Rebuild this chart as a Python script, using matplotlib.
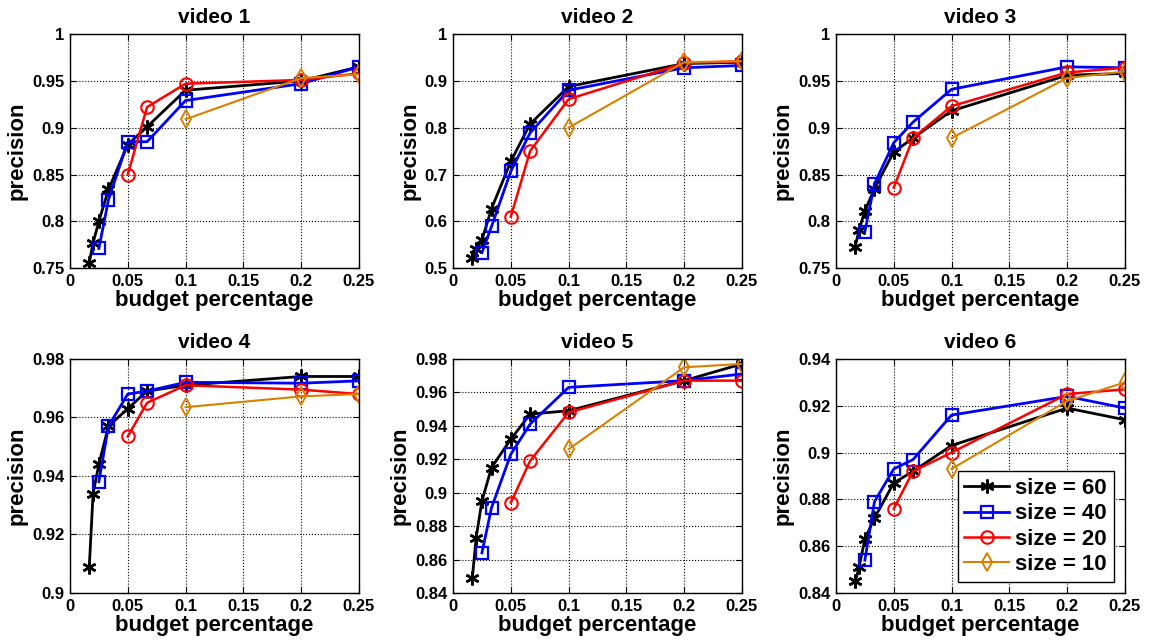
import numpy as np
import matplotlib
matplotlib.use("Agg")
import matplotlib.pyplot as plt
from matplotlib.ticker import FuncFormatter, MultipleLocator

plt.rcParams['font.family'] = ['Liberation Sans', 'DejaVu Sans']
plt.rcParams['font.weight'] = 'bold'

# budget percentages used by each window size
x_60 = [0.0167, 0.02, 0.025, 0.0333, 0.05, 0.0667, 0.1, 0.2, 0.25]
x_40 = [0.025, 0.0333, 0.05, 0.0667, 0.1, 0.2, 0.25]
x_20 = [0.05, 0.0667, 0.1, 0.2, 0.25]
x_10 = [0.1, 0.2, 0.25]

# precision per video, one list per size
v1_60 = [0.756, 0.777, 0.800, 0.834, 0.882, 0.901, 0.940, 0.950, 0.965]
v1_40 = [0.771, 0.823, 0.885, 0.885, 0.929, 0.947, 0.965]
v1_20 = [0.850, 0.922, 0.947, 0.951, 0.958]
v1_10 = [0.909, 0.953, 0.957]

v2_60 = [0.521, 0.540, 0.560, 0.627, 0.728, 0.808, 0.888, 0.937, 0.940]
v2_40 = [0.533, 0.589, 0.707, 0.789, 0.880, 0.928, 0.933]
v2_20 = [0.610, 0.750, 0.861, 0.938, 0.942]
v2_10 = [0.800, 0.940, 0.942]

v3_60 = [0.773, 0.791, 0.811, 0.835, 0.874, 0.889, 0.918, 0.956, 0.958]
v3_40 = [0.789, 0.840, 0.884, 0.906, 0.941, 0.965, 0.964]
v3_20 = [0.836, 0.889, 0.923, 0.959, 0.964]
v3_10 = [0.889, 0.953, 0.960]

v4_60 = [0.909, 0.934, 0.944, 0.957, 0.963, 0.969, 0.971, 0.974, 0.974]
v4_40 = [0.938, 0.957, 0.968, 0.969, 0.972, 0.9717, 0.9725]
v4_20 = [0.9535, 0.965, 0.971, 0.9695, 0.968]
v4_10 = [0.9635, 0.9672, 0.968]

v5_60 = [0.849, 0.873, 0.895, 0.915, 0.932, 0.947, 0.949, 0.967, 0.977]
v5_40 = [0.864, 0.891, 0.923, 0.941, 0.963, 0.967, 0.971]
v5_20 = [0.894, 0.919, 0.948, 0.967, 0.967]
v5_10 = [0.926, 0.975, 0.977]

v6_60 = [0.845, 0.851, 0.863, 0.872, 0.887, 0.892, 0.903, 0.919, 0.914]
v6_40 = [0.854, 0.879, 0.893, 0.897, 0.916, 0.924, 0.919]
v6_20 = [0.876, 0.892, 0.900, 0.925, 0.927]
v6_10 = [0.893, 0.922, 0.930]

titles = ['video 1', 'video 2', 'video 3', 'video 4', 'video 5', 'video 6']
ylims = [(0.75, 1), (0.5, 1), (0.75, 1), (0.9, 0.98), (0.84, 0.98), (0.84, 0.94)]
ysteps = [0.05, 0.1, 0.05, 0.02, 0.02, 0.02]
sizes = ['size = 60', 'size = 40', 'size = 20', 'size = 10']

all_data = [
    (v1_60, v1_40, v1_20, v1_10),
    (v2_60, v2_40, v2_20, v2_10),
    (v3_60, v3_40, v3_20, v3_10),
    (v4_60, v4_40, v4_20, v4_10),
    (v5_60, v5_40, v5_20, v5_10),
    (v6_60, v6_40, v6_20, v6_10),
]

orange = '#D98000'
styles = [
    dict(color='black', marker=(6, 2, 0), lw=2.0, ms=10, mew=1.8),
    dict(color='#0000FF', marker='s', lw=2.0, ms=8, mfc='none', mew=1.6),
    dict(color='#FF0000', marker='o', lw=1.8, ms=9, mfc='none', mew=1.5),
    dict(color=orange, marker='d', lw=1.5, ms=9, mfc='none', mew=1.4),
]
xs = [x_60, x_40, x_20, x_10]

fig = plt.figure(figsize=(11.51, 6.43), dpi=100)
lefts = [0.0608, 0.3936, 0.7263]
bottoms = [0.583, 0.0778]
fmt = FuncFormatter(lambda v, p: f"{v:g}")

for i in range(6):
    ax = fig.add_axes([lefts[i % 3], bottoms[i // 3], 0.251, 0.364])
    for x, y, st, lab in zip(xs, all_data[i], styles, sizes):
        ax.plot(x, y, label=lab, **st)
    ax.set_xlim(0, 0.25)
    ax.set_ylim(*ylims[i])
    ax.xaxis.set_major_locator(MultipleLocator(0.05))
    ax.yaxis.set_major_locator(MultipleLocator(ysteps[i]))
    ax.xaxis.set_major_formatter(fmt)
    ax.yaxis.set_major_formatter(fmt)
    ax.grid(True, color='black', linestyle=':', linewidth=0.8)
    ax.tick_params(direction='in', top=True, right=True, labelsize=12, length=4, pad=4)
    for lbl in ax.get_xticklabels() + ax.get_yticklabels():
        lbl.set_fontweight('bold')
    for sp in ax.spines.values():
        sp.set_linewidth(1.0)
    ax.set_title(titles[i], fontsize=15, fontweight='bold', pad=8)
    ax.set_xlabel('budget percentage', fontsize=16, fontweight='bold', labelpad=1)
    ax.set_ylabel('precision', fontsize=16, fontweight='bold', labelpad=3)

    if i == 5:
        leg = ax.legend(loc='lower right', fontsize=16, handlelength=2.0,
                        frameon=True, fancybox=False, framealpha=1,
                        borderaxespad=0.5, labelspacing=0.2, borderpad=0.3,
                        handletextpad=0.3)
        leg.get_frame().set_edgecolor('black')
        leg.get_frame().set_linewidth(1.0)
        for t in leg.get_texts():
            t.set_fontweight('bold')

fig.savefig('out.png', dpi=100)
